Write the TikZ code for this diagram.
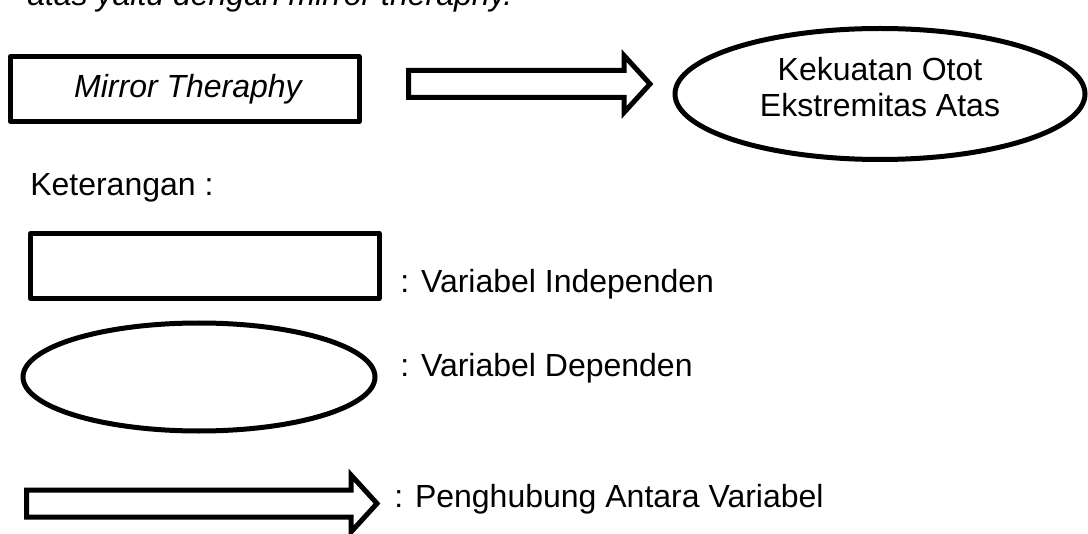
\documentclass[tikz,border=0pt]{standalone}
\usepackage{fontspec}
\setmainfont{Liberation Sans}
\usetikzlibrary{calc,shapes.geometric}
\begin{document}
\begin{tikzpicture}[x=0.75pt,y=-0.75pt,
  txt/.style={inner sep=0pt, font=\fontsize{24}{27.5}\selectfont},
  box/.style={draw, line width=3.75pt, line join=round, inner sep=0pt,
    minimum width=261.4pt, minimum height=48.75pt},
  ell/.style={draw, ellipse, line width=3.75pt, inner sep=0pt},
  blockarrow/.style={draw, line width=3.75pt, line join=miter, to path={
    ($(\tikztostart)+(0,-13.5)$) -- ($(\tikztotarget)+(-26,-13.5)$) --
    ($(\tikztotarget)+(-26,-28.5)$) -- (\tikztotarget) --
    ($(\tikztotarget)+(-26,28.5)$) -- ($(\tikztotarget)+(-26,13.5)$) --
    ($(\tikztostart)+(0,13.5)$) -- cycle}}
]
\useasboundingbox (0,0) rectangle (1088,534);
\clip (0,0) rectangle (1088,534);

% clipped sentence at the top
\node[txt, anchor=base west] (top) at (27,6) {\itshape atas yaitu dengan mirror theraphy.};

% main diagram
\node[box] (ind) at (184.75,89) {};
\node[txt] (indtext) at (188,89) {\itshape Mirror Theraphy};
\node[ell, minimum width=307.5pt, minimum height=98.25pt] (dep) at (880,94) {};
\node[txt, align=center] (deptext) at (880,87) {Kekuatan Otot\\Ekstremitas Atas};
\coordinate (a1s) at (408.5,84);
\coordinate (a1e) at (650,84);
\draw[blockarrow] (a1s) to (a1e);

% legend
\node[txt, anchor=base west] (ket) at (30,196) {Keterangan :};
\node[box] (lbox) at (204.75,266) {};
\node[txt, anchor=base west] (lboxtext) at (400,293) {: Variabel Independen};
\node[ell, minimum width=264pt, minimum height=81pt] (lell) at (199,377) {};
\node[txt, anchor=base west] (lelltext) at (400,376) {: Variabel Dependen};
\coordinate (a2s) at (26.5,503.5);
\coordinate (a2e) at (377,503.5);
\draw[blockarrow] (a2s) to (a2e);
\node[txt, anchor=base west] (larrtext) at (394,507) {: Penghubung Antara Variabel};
\end{tikzpicture}
\end{document}
